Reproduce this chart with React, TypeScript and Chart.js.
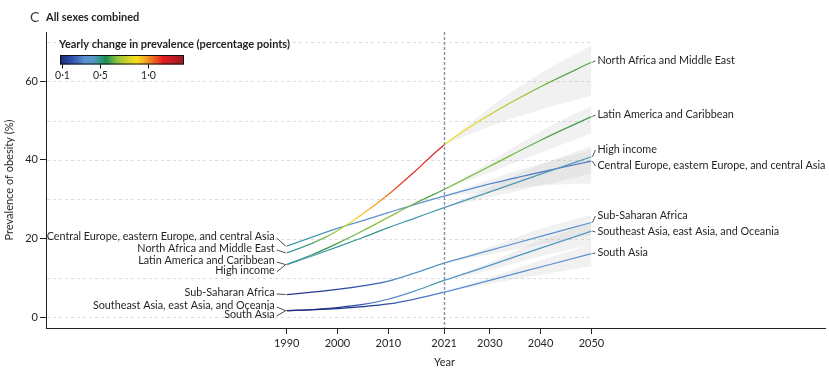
import React, { useEffect, useRef } from "react";
import { Chart, registerables } from "chart.js";
Chart.register(...registerables);

// ---------- data ----------
const YEARS = [1990, 1995, 2000, 2005, 2010, 2015, 2021, 2030, 2040, 2050];
const BAND_YEARS = [2021, 2030, 2040, 2050];
const X_TICKS = [1990, 2000, 2010, 2021, 2030, 2040, 2050];
const Y_TICKS = [0, 20, 40, 60];
const GRID_VALUES = [0, 10, 20, 30, 40, 50, 60, 70];
const FORECAST_START = 2021;

const REGIONS = [
  "North Africa and Middle East",
  "Latin America and Caribbean",
  "High income",
  "Central Europe, eastern Europe, and central Asia",
  "Sub-Saharan Africa",
  "Southeast Asia, east Asia, and Oceania",
  "South Asia",
];

const northAfrica = [16.4, 18.8, 22.0, 26.3, 31.2, 36.8, 43.8, 51.5, 58.6, 64.8];
const latinAmerica = [13.4, 15.9, 18.8, 22.0, 25.4, 28.8, 32.5, 38.4, 45.0, 51.0];
const highIncome = [13.4, 15.6, 17.9, 20.3, 22.8, 25.1, 27.9, 31.9, 36.4, 40.8];
const centralEurope = [18.1, 20.4, 22.6, 24.6, 26.6, 28.6, 30.8, 33.9, 36.9, 39.7];
const subSaharan = [5.8, 6.4, 7.1, 8.0, 9.2, 11.2, 13.8, 17.0, 20.6, 24.1];
const southeastAsia = [1.7, 2.0, 2.5, 3.3, 4.6, 6.6, 9.4, 13.2, 17.6, 21.9];
const southAsia = [1.7, 1.9, 2.2, 2.7, 3.4, 4.6, 6.4, 9.4, 12.8, 16.2];

const northAfricaUpper = [43.8, 53.3, 62.0, 69.1];
const northAfricaLower = [43.8, 48.5, 52.8, 56.3];
const latinAmericaUpper = [32.5, 39.5, 47.2, 53.8];
const latinAmericaLower = [32.5, 36.8, 41.8, 46.7];
const highIncomeUpper = [27.9, 33.2, 38.8, 43.5];
const highIncomeLower = [27.9, 30.5, 33.5, 36.5];
const centralEuropeUpper = [30.8, 35.0, 39.0, 42.5];
const centralEuropeLower = [30.8, 32.0, 33.5, 34.0];
const subSaharanUpper = [13.8, 17.8, 22.5, 26.0];
const subSaharanLower = [13.8, 16.0, 18.5, 21.0];
const southeastAsiaUpper = [9.4, 14.0, 19.5, 24.0];
const southeastAsiaLower = [9.4, 12.0, 15.5, 18.5];
const southAsiaUpper = [6.4, 10.2, 14.5, 18.5];
const southAsiaLower = [6.4, 8.5, 10.8, 13.0];

const SERIES = [northAfrica, latinAmerica, highIncome, centralEurope, subSaharan, southeastAsia, southAsia];
const UPPER = [northAfricaUpper, latinAmericaUpper, highIncomeUpper, centralEuropeUpper, subSaharanUpper, southeastAsiaUpper, southAsiaUpper];
const LOWER = [northAfricaLower, latinAmericaLower, highIncomeLower, centralEuropeLower, subSaharanLower, southeastAsiaLower, southAsiaLower];

const COLORBAR_TICKS = [0.1, 0.5, 1.0];
const COLORBAR_LABELS = ["0·1", "0·5", "1·0"];
const COLORBAR_MIN = 0.08;
const COLORBAR_MAX = 1.38;

// colour map (yearly change in percentage points -> colour)
const CMAP_V = [0.08, 0.2, 0.34, 0.42, 0.48, 0.56, 0.68, 0.8, 0.88, 0.98, 1.08, 1.16, 1.38];
const CMAP_C = ["#1b2a7c", "#2d4ea8", "#5b8fd2", "#5a96cc", "#3a9a9a", "#1a8c50", "#8ec23c", "#d8d428", "#f7e01e", "#f5a322", "#ee5a22", "#e41c24", "#981b27"];

// ---------- layout / style ----------
const FONT = "Lato, 'Open Sans', sans-serif";
const TEXT = "#231f20";
const LEFT_LABEL_Y = [249, 261, 271, 237, 293, 306, 315];
const RIGHT_LABEL_Y = [61, 115, 150, 166, 216, 232, 253];

function hexToRgb(h: string) {
  const n = parseInt(h.slice(1), 16);
  return [(n >> 16) & 255, (n >> 8) & 255, n & 255];
}
function cmap(v: number) {
  if (v <= CMAP_V[0]) return CMAP_C[0];
  if (v >= CMAP_V[CMAP_V.length - 1]) return CMAP_C[CMAP_C.length - 1];
  for (let i = 0; i < CMAP_V.length - 1; i++) {
    if (v >= CMAP_V[i] && v <= CMAP_V[i + 1]) {
      const t = (v - CMAP_V[i]) / (CMAP_V[i + 1] - CMAP_V[i]);
      const a = hexToRgb(CMAP_C[i]);
      const b = hexToRgb(CMAP_C[i + 1]);
      const c = a.map((x, k) => Math.round(x + (b[k] - x) * t));
      return `rgb(${c[0]},${c[1]},${c[2]})`;
    }
  }
  return CMAP_C[0];
}

function lineGradient(chart: any, values: number[]) {
  const xs = chart.scales.x;
  const ctx = chart.ctx;
  const px = YEARS.map((y) => xs.getPixelForValue(y));
  const x0 = px[0];
  const x1 = px[px.length - 1];
  const span = x1 - x0;
  const g = ctx.createLinearGradient(x0, 0, x1, 0);
  const slopes = values.slice(1).map((v, i) => (v - values[i]) / (YEARS[i + 1] - YEARS[i]));
  const breakIdx = YEARS.indexOf(FORECAST_START);
  const pos = (p: number) => Math.max(0, Math.min(1, (p - x0) / span));
  g.addColorStop(0, cmap(slopes[0]));
  for (let i = 0; i < slopes.length; i++) {
    g.addColorStop(pos((px[i] + px[i + 1]) / 2), cmap(slopes[i]));
    if (i + 1 === breakIdx) {
      g.addColorStop(pos(px[i + 1]), cmap(slopes[i]));
      g.addColorStop(pos(px[i + 1] + 0.6), cmap(slopes[i + 1]));
    }
  }
  g.addColorStop(1, cmap(slopes[slopes.length - 1]));
  return g;
}

const decor = {
  id: "decor",
  beforeDatasetsDraw(chart: any) {
    const { ctx, chartArea, scales } = chart;
    const x = scales.x;
    const y = scales.y;
    ctx.save();
    ctx.strokeStyle = "#dcdcdc";
    ctx.lineWidth = 1;
    ctx.setLineDash([3, 3]);
    const xEnd = x.getPixelForValue(2050);
    GRID_VALUES.forEach((v) => {
      const py = Math.round(y.getPixelForValue(v)) + 0.5;
      ctx.beginPath();
      ctx.moveTo(chartArea.left + 1, py);
      ctx.lineTo(xEnd, py);
      ctx.stroke();
    });
    ctx.restore();
  },
  afterDatasetsDraw(chart: any) {
    const { ctx, chartArea, scales } = chart;
    const x = scales.x;
    const y = scales.y;
    ctx.save();
    const fx = Math.round(x.getPixelForValue(FORECAST_START)) + 0.5;
    ctx.strokeStyle = "#8293a2";
    ctx.lineWidth = 1.4;
    ctx.setLineDash([3, 2]);
    ctx.beginPath();
    ctx.moveTo(fx, chartArea.top);
    ctx.lineTo(fx, chartArea.bottom);
    ctx.stroke();
    ctx.setLineDash([]);

    ctx.font = `10.8px ${FONT}`;
    ctx.fillStyle = TEXT;
    ctx.strokeStyle = TEXT;
    ctx.lineWidth = 0.8;
    ctx.textBaseline = "middle";
    const xStart = x.getPixelForValue(YEARS[0]);
    const xLast = x.getPixelForValue(YEARS[YEARS.length - 1]);
    REGIONS.forEach((name, i) => {
      const vals = SERIES[i];
      const ly = LEFT_LABEL_Y[i];
      ctx.textAlign = "right";
      ctx.fillText(name, xStart - 12, ly);
      ctx.beginPath();
      ctx.moveTo(xStart - 10, ly + 1);
      ctx.lineTo(xStart - 1, y.getPixelForValue(vals[0]));
      ctx.stroke();
      const ry = RIGHT_LABEL_Y[i];
      ctx.textAlign = "left";
      ctx.fillText(name, xLast + 6, ry);
      ctx.beginPath();
      ctx.moveTo(xLast + 1, y.getPixelForValue(vals[vals.length - 1]));
      ctx.lineTo(xLast + 4, ry);
      ctx.stroke();
    });

    ctx.textAlign = "center";
    ctx.font = `11px ${FONT}`;
    ctx.fillText("Year", fx, 362);

    ctx.textAlign = "left";
    ctx.fillStyle = "#3a3a3a";
    ctx.font = `14px ${FONT}`;
    ctx.fillText("C", 30, 17);
    ctx.fillStyle = TEXT;
    ctx.font = `bold 11px ${FONT}`;
    ctx.fillText("All sexes combined", 46, 17);

    ctx.font = `bold 11px ${FONT}`;
    ctx.fillText("Yearly change in prevalence (percentage points)", 59, 44);
    const bx0 = 60, bx1 = 184, by0 = 55, by1 = 64.5;
    const toX = (v: number) => bx0 + ((v - COLORBAR_MIN) / (COLORBAR_MAX - COLORBAR_MIN)) * (bx1 - bx0);
    const g = ctx.createLinearGradient(bx0, 0, bx1, 0);
    CMAP_V.forEach((v, i) => g.addColorStop(Math.max(0, Math.min(1, (toX(v) - bx0) / (bx1 - bx0))), CMAP_C[i]));
    ctx.fillStyle = g;
    ctx.fillRect(bx0, by0, bx1 - bx0, by1 - by0);
    ctx.strokeStyle = "#111";
    ctx.lineWidth = 1;
    ctx.strokeRect(bx0 + 0.5, by0 + 0.5, bx1 - bx0 - 1, by1 - by0 - 1);
    ctx.fillStyle = TEXT;
    ctx.font = `10.5px ${FONT}`;
    ctx.textAlign = "center";
    COLORBAR_TICKS.forEach((v, i) => {
      const tx = Math.round(toX(v)) + 0.5;
      ctx.beginPath();
      ctx.moveTo(tx, by1);
      ctx.lineTo(tx, by1 + 4);
      ctx.stroke();
      ctx.fillText(COLORBAR_LABELS[i], tx, 76);
    });
    ctx.restore();
  },
};

export default function App() {
  const ref = useRef<HTMLCanvasElement | null>(null);
  useEffect(() => {
    if (!ref.current) return;
    const datasets: any[] = [];
    REGIONS.forEach((name, i) => {
      datasets.push({
        label: name + " upper",
        data: BAND_YEARS.map((yr, k) => ({ x: yr, y: UPPER[i][k] })),
        borderWidth: 0,
        pointRadius: 0,
        fill: false,
        cubicInterpolationMode: "monotone",
        order: 3,
      });
      datasets.push({
        label: name + " lower",
        data: BAND_YEARS.map((yr, k) => ({ x: yr, y: LOWER[i][k] })),
        borderWidth: 0,
        pointRadius: 0,
        fill: "-1",
        backgroundColor: "rgba(170,170,170,0.17)",
        cubicInterpolationMode: "monotone",
        order: 3,
      });
    });
    REGIONS.forEach((name, i) => {
      datasets.push({
        label: name,
        data: YEARS.map((yr, k) => ({ x: yr, y: SERIES[i][k] })),
        borderWidth: 1.25,
        pointRadius: 0,
        fill: false,
        cubicInterpolationMode: "monotone",
        borderColor: (c: any) => {
          const chart = c.chart;
          if (!chart.chartArea) return "#5b8fd2";
          return lineGradient(chart, SERIES[i]);
        },
        order: 1,
      });
    });

    const chart = new Chart(ref.current, {
      type: "line",
      data: { datasets },
      plugins: [decor],
      options: {
        animation: false,
        responsive: false,
        maintainAspectRatio: false,
        layout: { padding: { top: 32, right: 4, left: 0, bottom: 0 } },
        plugins: { legend: { display: false }, tooltip: { enabled: false }, title: { display: false } },
        elements: { point: { radius: 0 } },
        scales: {
          x: {
            type: "linear",
            min: 1942.6,
            max: 2096,
            afterBuildTicks: (s: any) => {
              s.ticks = X_TICKS.map((v) => ({ value: v }));
            },
            afterFit: (s: any) => {
              s.height = 42;
            },
            grid: { drawOnChartArea: false, drawTicks: true, tickLength: 6, color: TEXT, lineWidth: 1 },
            border: { display: true, color: TEXT, width: 1 },
            ticks: {
              autoSkip: false,
              maxRotation: 0,
              padding: 3,
              color: TEXT,
              font: { family: FONT, size: 11 },
              callback: (v: any) => String(v),
            },
          },
          y: {
            type: "linear",
            min: -2.7,
            max: 72.5,
            afterBuildTicks: (s: any) => {
              s.ticks = Y_TICKS.map((v) => ({ value: v }));
            },
            afterFit: (s: any) => {
              s.width = 46;
            },
            grid: { drawOnChartArea: false, drawTicks: true, tickLength: 6, color: TEXT, lineWidth: 1 },
            border: { display: true, color: TEXT, width: 1 },
            ticks: {
              padding: 2,
              color: TEXT,
              font: { family: FONT, size: 11 },
              callback: (v: any) => String(v),
            },
            title: {
              display: true,
              text: "Prevalence of obesity (%)",
              color: TEXT,
              font: { family: FONT, size: 11 },
              padding: { top: 3, bottom: 2 },
            },
          },
        },
      },
    });
    return () => chart.destroy();
  }, []);
  return (
    <div style={{ position: "absolute", left: 0, top: 0, width: 829, height: 370, background: "#fff" }}>
      <canvas ref={ref} width={829} height={370} style={{ width: 829, height: 370, display: "block" }} />
    </div>
  );
}
